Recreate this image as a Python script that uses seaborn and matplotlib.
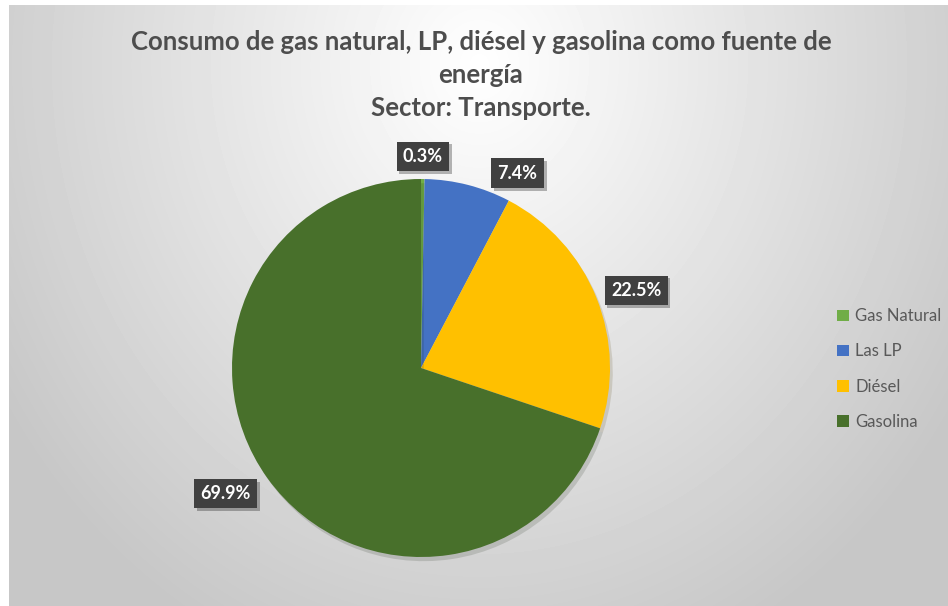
import numpy as np
import matplotlib
matplotlib.use('Agg')
import matplotlib.pyplot as plt
import matplotlib.patheffects as pe
from matplotlib.patches import Patch
import seaborn as sns

sns.set_theme(style="white")
plt.rcParams['font.family'] = ['Lato', 'DejaVu Sans']

# data
fuels = ['Gas Natural', 'Las LP', 'Diésel', 'Gasolina']
shares = [0.3, 7.4, 22.5, 69.9]
pct_labels = ['0.3%', '7.4%', '22.5%', '69.9%']
colors = ['#70AD47', '#4472C4', '#FFC000', '#48702B']
title_lines = ['Consumo de gas natural, LP, diésel y gasolina como fuente de',
               'energía', 'Sector: Transporte.']

fig = plt.figure(figsize=(9.48, 6.06), dpi=100)
fig.patch.set_facecolor('white')

# gradient background panel
bg = fig.add_axes([9 / 948, 0, 1 - 9 / 948, 1 - 5 / 606])
yy, xx = np.mgrid[0:601, 0:939]
dist = np.sqrt(((xx - 470) / 560) ** 2 + ((yy - 60) / 640) ** 2)
shade = np.clip(1.0 - 0.22 * dist, 0.78, 1.0)
bg.imshow(shade, cmap='gray', vmin=0, vmax=1, aspect='auto', interpolation='bilinear')
bg.set_axis_off()

# pie
ax = fig.add_axes([232 / 948, 49 / 606, 378 / 948, 378 / 606])
wedges, _ = ax.pie(shares, colors=colors, startangle=90, counterclock=False,
                   radius=1.0, wedgeprops=dict(linewidth=0))
for w in wedges:
    w.set_path_effects([pe.SimplePatchShadow(offset=(2, -3), alpha=0.15), pe.Normal()])
ax.set_xlim(-1, 1)
ax.set_ylim(-1, 1)
ax.set_aspect('equal')

label_r = [1.12, 1.15, 1.21, 1.23]
label_shift = [0.0, -12, -2, -3]
for w, lab, r, sh in zip(wedges, pct_labels, label_r, label_shift):
    ang = np.deg2rad((w.theta1 + w.theta2) / 2 + sh)
    t = ax.text(r * np.cos(ang), r * np.sin(ang), lab, ha='center', va='center',
                color='white', fontsize=13, fontweight='bold',
                bbox=dict(boxstyle='square,pad=0.35', fc='#404040', ec='none'))
    t.get_bbox_patch().set_path_effects([pe.SimplePatchShadow(offset=(2, -2), alpha=0.3), pe.Normal()])

# title
for i, line in enumerate(title_lines):
    fig.text(481 / 948, 1 - (42 + 33 * i) / 606, line, ha='center', va='center',
             fontsize=18.5, fontweight='bold', color='#4d4d4d')

# legend
handles = [Patch(facecolor=c, edgecolor='none') for c in colors]
leg = fig.legend(handles, fuels, loc='center left', bbox_to_anchor=(822 / 948, 1 - 369 / 606),
                 frameon=False, fontsize=12, handlelength=0.7, handleheight=0.7,
                 handletextpad=0.4, labelspacing=1.15, labelcolor='#595959')

fig.savefig('out.png', dpi=100)
